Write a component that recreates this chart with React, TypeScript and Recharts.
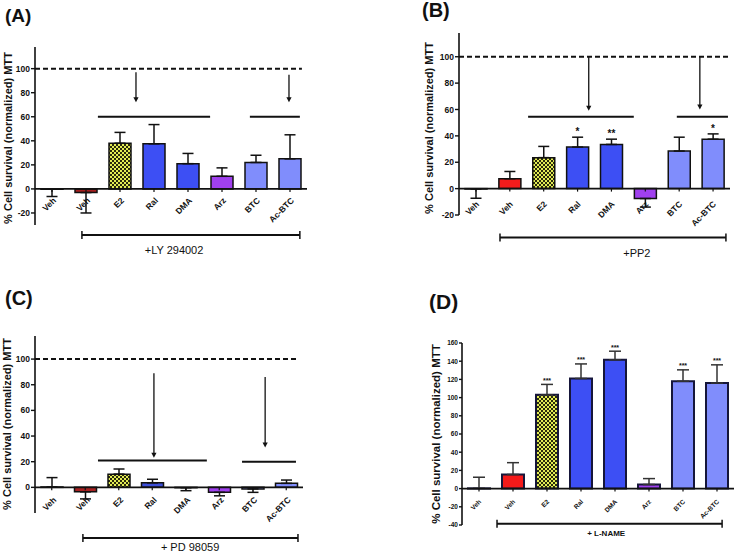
import React from 'react';
import { ComposedChart, Bar, Line, XAxis, YAxis, ReferenceLine, ReferenceDot, ErrorBar, Cell, Text } from 'recharts';

const FONT = '"Liberation Sans", Arial, Helvetica, sans-serif';
const INK = '#111';

const categories = ['Veh', 'Veh', 'E2', 'Ral', 'DMA', 'Arz', 'BTC', 'Ac-BTC'];
const yTitle = '% Cell survival (normalized) MTT';

// (A) +LY 294002
const valuesA = [-0.3, -3, 38, 37.5, 21, 10.5, 22, 25];
const errLowA = [6, 17, 0, 0, 0, 0, 0, 0];
const errHighA = [0, 0, 9, 16, 8.5, 7, 6, 20];
const spansA = [[1.35, 4.65, 60], [5.82, 7.29, 60]];
const arrowsA = [[2.47, 97, 72], [6.97, 95, 72]];
const groupA = [0.88, 7.29, -38.3];
const groupLabelA = ['+LY 294002', 3.59, -51];

// (B) +PP2
const valuesB = [-0.3, 7.5, 23.5, 31.5, 33.5, -7.5, 28.5, 37.5];
const errLowB = [7, 0, 0, 0, 0, 6.5, 0, 0];
const errHighB = [0, 5.5, 8.5, 7.5, 4, 0, 10.5, 4];
const sigB = ['', '', '', '*', '**', '', '', '*'];
const spansB = [[1.54, 4.66, 54.5], [5.93, 7.44, 54.5]];
const arrowsB = [[3.33, 100, 59], [6.61, 100, 60]];
const groupB = [0.71, 7.38, -37];
const groupLabelB = ['+PP2', 4.75, -48.5];

// (C) + PD 98059
const valuesC = [0.3, -3.5, 10.3, 3.5, -0.3, -3.9, -1.2, 3.1];
const errLowC = [0, 5.5, 0, 0, 2.3, 2.7, 2.7, 0];
const errHighC = [7.3, 0, 4, 2.8, 0, 0, 0, 2.6];
const spansC = [[1.38, 4.63, 21], [5.68, 7.29, 20]];
const arrowsC = [[3.05, 89, 23], [6.37, 86, 31]];
const groupC = [0.93, 7.35, -39.5];
const groupLabelC = ['+ PD 98059', 4.13, -46.5];

// (D) + L-NAME
const valuesD = [0.3, 15.5, 103, 121, 141.5, 4.5, 118, 116];
const errLowD = [0, 0, 0, 0, 0, 0, 0, 0];
const errHighD = [12.2, 13, 11.5, 16, 9.5, 6.5, 12.5, 20];
const sigD = ['', '', '***', '***', '***', '', '***', '***'];
const groupD = [0.53, 7.15, -38.5];
const groupLabelD = ['+ L-NAME', 3.74, -49.5];

const BLUE = '#3d4ff4';
const PURPLE = '#a040ee';
const LIGHT = '#808dfc';

// category tick: drawn at the zero line, which sits `shift` px above the plot bottom
const catTick = (fontSize: number, dx: number, drop: number, shift: number) => (props: any) => {
  const { x, y, payload, index } = props;
  const zy = y - shift;
  return (
    <g key={`t${index}`}>
      <line x1={x} y1={zy} x2={x} y2={zy + 3} stroke={INK} strokeWidth={1.2} />
      <Text
        x={x + dx}
        y={zy + drop}
        angle={-45}
        textAnchor="end"
        verticalAnchor="middle"
        fontSize={fontSize}
        fontWeight={700}
        fontFamily={FONT}
        fill={INK}
      >
        {categories[payload.value]}
      </Text>
    </g>
  );
};

const sigLabel = (sig: string[], fontSize: number, lift: number) => (props: any) => {
  const { cx, cy, index } = props;
  const s = sig[index];
  if (!s || cx == null || cy == null) return <g key={`s${index}`} />;
  return (
    <text key={`s${index}`} x={cx} y={cy - lift} textAnchor="middle" fontSize={fontSize} fontWeight={700} fontFamily={FONT} fill={INK}>
      {s}
    </text>
  );
};

const arrowShape = (props: any) => {
  const { x1, y1, x2, y2 } = props;
  return (
    <g>
      <line x1={x1} y1={y1} x2={x2} y2={y2 - 4} stroke={INK} strokeWidth={1.3} />
      <path d={`M${x2 - 2.6},${y2 - 5} L${x2 + 2.6},${y2 - 5} L${x2},${y2} Z`} fill={INK} />
    </g>
  );
};

const groupShape = (props: any) => {
  const { x1, y1, x2 } = props;
  return (
    <g>
      <line x1={x1} y1={y1} x2={x2} y2={y1} stroke={INK} strokeWidth={2} />
      <line x1={x1} y1={y1 - 4} x2={x1} y2={y1 + 4} stroke={INK} strokeWidth={1.5} />
      <line x1={x2} y1={y1 - 4} x2={x2} y2={y1 + 4} stroke={INK} strokeWidth={1.5} />
    </g>
  );
};

const Panel = (p: any) => {
  const rows = categories.map((name, i) => ({
    idx: i,
    name,
    value: p.values[i],
    err: [p.errLow[i], p.errHigh[i]],
    top: p.values[i] + p.errHigh[i],
  }));
  const patId = `check-${p.id}`;
  const fills = p.colors.map((c: string) => (c === 'check' ? `url(#${patId})` : c));
  const margin = { ...p.margin, bottom: p.margin.bottom - 1 };
  const plotH = p.height - p.margin.top - p.margin.bottom;
  const shift = (plotH * (0 - p.domain[0])) / (p.domain[1] - p.domain[0]);
  return (
    <div style={{ position: 'absolute', left: p.left, top: p.top }}>
      <ComposedChart width={p.width} height={p.height} data={rows} margin={margin}>
        <defs>
          <pattern id={patId} width="4" height="4" patternUnits="userSpaceOnUse">
            <rect width="4" height="4" fill="#e2ec55" />
            <rect width="2" height="2" fill="#2a2a0c" />
            <rect x="2" y="2" width="2" height="2" fill="#2a2a0c" />
          </pattern>
        </defs>
        <XAxis
          xAxisId="cat"
          dataKey="idx"
          height={1}
          axisLine={false}
          tickLine={false}
          tickSize={0}
          tickMargin={0}
          interval={0}
          tick={catTick(p.catFont, p.catDx, p.catDrop, shift)}
        />
        <XAxis xAxisId="num" dataKey="idx" type="number" domain={[-0.5, 7.5]} allowDataOverflow hide />
        <YAxis
          domain={p.domain}
          ticks={p.ticks}
          interval={0}
          width={p.axisWidth}
          tickSize={p.tickSize}
          tickMargin={1}
          tick={{ fontSize: p.tickFont, fontWeight: 700, fill: INK, fontFamily: FONT }}
          axisLine={{ stroke: INK, strokeWidth: 1.6 }}
          tickLine={{ stroke: INK, strokeWidth: 1.4 }}
        />
        <Bar
          xAxisId="cat"
          dataKey="value"
          barSize={p.barSize}
          stroke={p.barStroke}
          strokeWidth={p.barStrokeWidth}
          isAnimationActive={false}
        >
          {rows.map((r, i) => (
            <Cell key={`b${i}`} fill={fills[i]} />
          ))}
          <ErrorBar dataKey="err" width={p.capWidth} stroke={p.errStroke} strokeWidth={1.5} direction="y" />
        </Bar>
        <ReferenceLine xAxisId="num" y={0} stroke={INK} strokeWidth={1.6} />
        {p.dashEnd != null && (
          <ReferenceLine
            xAxisId="num"
            segment={[{ x: -0.5, y: 100 }, { x: p.dashEnd, y: 100 }]}
            stroke={INK}
            strokeWidth={2}
            strokeDasharray="5 3"
          />
        )}
        {(p.spans || []).map((s: number[], i: number) => (
          <ReferenceLine
            key={`sp${i}`}
            xAxisId="num"
            segment={[{ x: s[0], y: s[2] }, { x: s[1], y: s[2] }]}
            stroke={INK}
            strokeWidth={2}
          />
        ))}
        {(p.arrows || []).map((a: number[], i: number) => (
          <ReferenceLine
            key={`ar${i}`}
            xAxisId="num"
            segment={[{ x: a[0], y: a[1] }, { x: a[0], y: a[2] }]}
            shape={arrowShape}
          />
        ))}
        <ReferenceLine
          xAxisId="num"
          segment={[{ x: p.group[0], y: p.group[2] }, { x: p.group[1], y: p.group[2] }]}
          ifOverflow="visible"
          shape={groupShape}
        />
        <ReferenceDot
          xAxisId="num"
          x={p.groupLabel[1]}
          y={p.groupLabel[2]}
          ifOverflow="visible"
          shape={(d: any) => (
            <text
              x={d.cx}
              y={d.cy}
              textAnchor="middle"
              dominantBaseline="central"
              fontSize={p.groupFont}
              fontWeight={p.groupWeight}
              fontFamily={FONT}
              fill={INK}
            >
              {p.groupLabel[0]}
            </text>
          )}
        />
        {p.sig && (
          <Line
            xAxisId="cat"
            dataKey="top"
            stroke="none"
            dot={sigLabel(p.sig, p.sigFont, p.sigLift)}
            activeDot={false}
            isAnimationActive={false}
          />
        )}
      </ComposedChart>
    </div>
  );
};

const Title = ({ text, left, top, size }: any) => (
  <div style={{ position: 'absolute', left, top, fontSize: size, fontWeight: 700, lineHeight: 1, fontFamily: FONT, whiteSpace: 'nowrap', color: INK }}>
    {text}
  </div>
);

const YTitle = ({ cx, cy, size }: any) => (
  <div
    style={{
      position: 'absolute',
      left: cx,
      top: cy,
      transform: 'translate(-50%, -50%) rotate(-90deg)',
      fontSize: size,
      fontWeight: 700,
      lineHeight: 1,
      fontFamily: FONT,
      whiteSpace: 'nowrap',
      color: INK,
    }}
  >
    {yTitle}
  </div>
);

export default function App() {
  const common = { width: 367, height: 276, axisWidth: 30, tickSize: 4, barSize: 22, capWidth: 5.5, barStroke: INK, barStrokeWidth: 1.5, errStroke: INK };
  return (
    <div style={{ position: 'absolute', left: 0, top: 0, width: 734, height: 552, background: '#fff', overflow: 'hidden', fontFamily: FONT }}>
      <Panel
        {...common}
        id="A"
        left={0}
        top={0}
        margin={{ top: 47, right: 60, bottom: 51, left: 5 }}
        domain={[-30, 118]}
        ticks={[-20, 0, 20, 40, 60, 80, 100]}
        tickFont={8.5}
        values={valuesA}
        errLow={errLowA}
        errHigh={errHighA}
        colors={['#222', '#a61e1e', 'check', BLUE, BLUE, PURPLE, LIGHT, LIGHT]}
        dashEnd={7.35}
        spans={spansA}
        arrows={arrowsA}
        group={groupA}
        groupLabel={groupLabelA}
        groupFont={11}
        groupWeight={400}
        catFont={8.5}
        catDx={2.5}
        catDrop={10}
      />
      <Panel
        {...common}
        id="B"
        left={367}
        top={0}
        margin={{ top: 33, right: 4, bottom: 61, left: 62 }}
        domain={[-20, 118]}
        ticks={[-20, 0, 20, 40, 60, 80, 100]}
        tickFont={8.5}
        values={valuesB}
        errLow={errLowB}
        errHigh={errHighB}
        colors={['#222', '#f21c1c', 'check', BLUE, BLUE, PURPLE, LIGHT, LIGHT]}
        dashEnd={7.45}
        spans={spansB}
        arrows={arrowsB}
        group={groupB}
        groupLabel={groupLabelB}
        groupFont={11}
        groupWeight={400}
        catFont={8.5}
        catDx={1.5}
        catDrop={14}
        sig={sigB}
        sigFont={10}
        sigLift={2}
      />
      <Panel
        {...common}
        id="C"
        left={0}
        top={276}
        margin={{ top: 60, right: 64, bottom: 39, left: 5 }}
        domain={[-20, 118]}
        ticks={[0, 20, 40, 60, 80, 100]}
        tickFont={8.5}
        values={valuesC}
        errLow={errLowC}
        errHigh={errHighC}
        colors={['#222', '#a82222', 'check', '#3d4fd8', BLUE, PURPLE, LIGHT, LIGHT]}
        dashEnd={7.35}
        spans={spansC}
        arrows={arrowsC}
        group={groupC}
        groupLabel={groupLabelC}
        groupFont={11}
        groupWeight={400}
        catFont={8.5}
        catDx={3}
        catDrop={11}
      />
      <Panel
        {...common}
        id="D"
        left={367}
        top={276}
        margin={{ top: 67, right: 0, bottom: 27, left: 65 }}
        domain={[-40, 160]}
        ticks={[-40, -20, 0, 20, 40, 60, 80, 100, 120, 140, 160]}
        tickFont={6.5}
        tickSize={3}
        values={valuesD}
        errLow={errLowD}
        errHigh={errHighD}
        colors={['#222', '#f51a1a', 'check', BLUE, BLUE, PURPLE, LIGHT, LIGHT]}
        barStroke="#16163a"
        barStrokeWidth={2}
        errStroke="#333"
        capWidth={6}
        group={groupD}
        groupLabel={groupLabelD}
        groupFont={8}
        groupWeight={700}
        catFont={6.5}
        catDx={1}
        catDrop={12}
        sig={sigD}
        sigFont={7}
        sigLift={1.5}
      />
      <Title text="(A)" left={5} top={6} size={19} />
      <Title text="(B)" left={422} top={0} size={20} />
      <Title text="(C)" left={5} top={288} size={20} />
      <Title text="(D)" left={429} top={291} size={21} />
      <YTitle cx={8} cy={138} size={11} />
      <YTitle cx={429} cy={128} size={11} />
      <YTitle cx={7} cy={424} size={11} />
      <YTitle cx={437} cy={434} size={11.5} />
    </div>
  );
}
